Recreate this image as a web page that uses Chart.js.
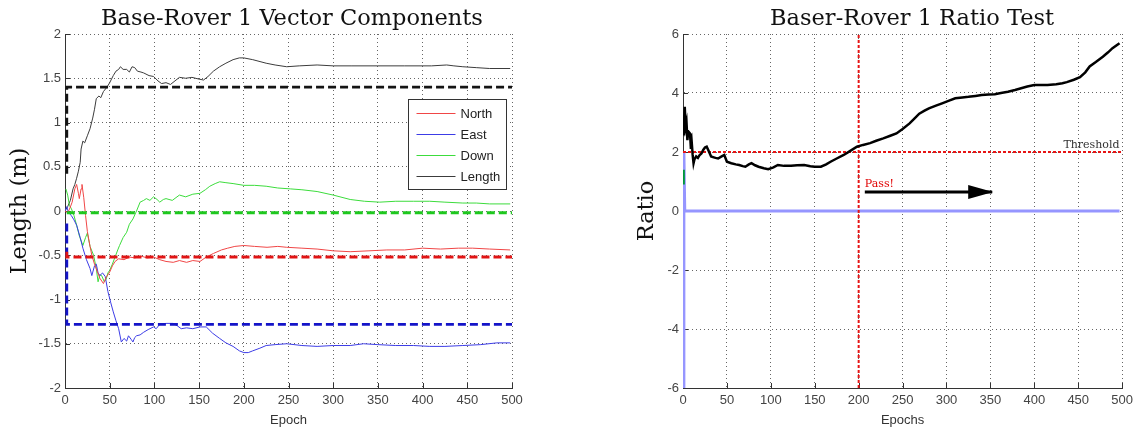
<!DOCTYPE html>
<html>
<head>
<meta charset="utf-8">
<script src="https://cdn.jsdelivr.net/npm/chart.js@4.4.1/dist/chart.umd.min.js"></script>
<style>
	html, body { margin: 0; padding: 0; background: #fff; }
	#wrap { display: flex; width: 1138px; height: 431px; }
	canvas { display: block; }
</style>
</head>
<body>
<div id="wrap">
	<canvas id="vectorChart" width="569" height="431"></canvas>
	<canvas id="ratioChart" width="569" height="431"></canvas>
</div>
<script>
// ---- Base-Rover 1 vector components: [epoch, metres] ----
const north = [[0,0.0],[3,-0.02],[5,0.02],[8,0.1],[11,0.25],[13,0.3],[15,0.2],[16,0.14],[18,0.25],[19,0.3],[21,0.15],[23,-0.05],[25,-0.23],[28,-0.4],[30,-0.5],[33,-0.6],[36,-0.68],[39,-0.76],[43,-0.82],[46,-0.75],[50,-0.69],[53,-0.62],[56,-0.57],[60,-0.54],[66,-0.55],[72,-0.52],[78,-0.53],[85,-0.51],[92,-0.53],[99,-0.52],[106,-0.55],[113,-0.57],[121,-0.58],[128,-0.56],[136,-0.58],[143,-0.56],[151,-0.57],[158,-0.52],[166,-0.48],[175,-0.44],[182,-0.42],[190,-0.4],[200,-0.39],[212,-0.4],[226,-0.41],[238,-0.4],[248,-0.41],[265,-0.42],[282,-0.43],[300,-0.45],[319,-0.46],[340,-0.45],[360,-0.44],[380,-0.44],[400,-0.42],[420,-0.43],[440,-0.42],[456,-0.42],[475,-0.43],[498,-0.44]];
const east = [[0,0.0],[2,0.05],[4,-0.02],[7,-0.05],[10,-0.1],[13,-0.16],[17,-0.3],[20,-0.42],[24,-0.55],[28,-0.65],[30,-0.73],[33,-0.62],[35,-0.6],[37,-0.7],[39,-0.73],[42,-0.7],[45,-0.74],[48,-0.91],[51,-1.03],[54,-1.14],[57,-1.24],[60,-1.33],[63,-1.48],[66,-1.44],[69,-1.47],[71,-1.41],[74,-1.45],[76,-1.48],[78,-1.43],[80,-1.41],[84,-1.4],[88,-1.37],[93,-1.34],[99,-1.31],[102,-1.33],[106,-1.28],[113,-1.27],[121,-1.27],[126,-1.3],[130,-1.33],[136,-1.32],[143,-1.33],[151,-1.31],[158,-1.31],[165,-1.38],[173,-1.44],[180,-1.49],[188,-1.53],[195,-1.58],[200,-1.6],[205,-1.6],[210,-1.58],[218,-1.55],[225,-1.52],[235,-1.51],[248,-1.5],[265,-1.52],[282,-1.53],[300,-1.52],[319,-1.52],[334,-1.5],[350,-1.51],[370,-1.52],[390,-1.52],[408,-1.53],[425,-1.53],[445,-1.52],[465,-1.51],[483,-1.49],[498,-1.49]];
const down = [[1,0.25],[3,0.18],[5,0.06],[7,0.03],[10,-0.05],[13,-0.16],[16,-0.28],[20,-0.39],[23,-0.3],[25,-0.25],[28,-0.4],[32,-0.5],[35,-0.65],[37,-0.8],[39,-0.72],[41,-0.73],[44,-0.8],[46,-0.77],[48,-0.7],[50,-0.67],[53,-0.6],[56,-0.52],[59,-0.44],[61,-0.39],[65,-0.3],[69,-0.24],[72,-0.15],[76,-0.09],[80,0.0],[84,0.1],[88,0.12],[91,0.14],[95,0.12],[99,0.16],[103,0.13],[106,0.1],[110,0.13],[113,0.14],[120,0.12],[128,0.18],[135,0.16],[143,0.19],[151,0.2],[157,0.24],[162,0.28],[168,0.31],[173,0.33],[180,0.32],[188,0.31],[200,0.29],[212,0.29],[225,0.28],[238,0.26],[252,0.25],[265,0.24],[282,0.22],[300,0.18],[319,0.13],[335,0.11],[352,0.1],[370,0.11],[390,0.11],[408,0.11],[425,0.1],[445,0.09],[460,0.09],[475,0.08],[498,0.08]];
const length = [[0,0.0],[3,0.05],[6,0.12],[9,0.25],[11,0.3],[13,0.37],[15,0.45],[17,0.55],[18,0.7],[20,0.79],[22,0.77],[25,0.85],[28,0.93],[31,1.05],[33,1.15],[35,1.27],[38,1.3],[40,1.28],[43,1.35],[47,1.4],[50,1.45],[54,1.53],[57,1.58],[60,1.6],[62,1.63],[65,1.6],[69,1.6],[72,1.57],[75,1.63],[78,1.62],[81,1.58],[85,1.57],[88,1.56],[94,1.53],[99,1.52],[104,1.47],[108,1.44],[113,1.45],[118,1.43],[123,1.47],[128,1.51],[135,1.5],[142,1.51],[150,1.49],[155,1.48],[160,1.52],[166,1.58],[173,1.63],[180,1.67],[188,1.71],[195,1.73],[200,1.73],[210,1.71],[225,1.67],[235,1.65],[248,1.63],[262,1.64],[282,1.65],[300,1.64],[320,1.64],[350,1.64],[380,1.64],[410,1.64],[427,1.65],[435,1.64],[445,1.63],[460,1.62],[475,1.61],[498,1.61]];

// reference (true) baseline components, dashed
const northRef = [[2,-0.46],[2,-0.52],[500,-0.52]];
const eastRef = [[2,-0.14],[2,-1.28],[500,-1.28]];
const downRef = [[2,-0.02],[500,-0.02]];
const lengthRef = [[2,0.42],[2,1.4],[500,1.4]];

// ---- Ratio test: [epoch, ratio] ----
const ratio = [[0,2.6],[1,2.9],[2,3.53],[3,2.85],[4,3.0],[5,2.4],[6,2.7],[8,2.63],[9,2.1],[10,2.3],[11,1.9],[12,1.62],[13,1.75],[15,1.85],[17,1.8],[19,1.9],[21,1.95],[23,2.07],[25,2.15],[27,2.18],[29,2.05],[32,1.85],[35,1.82],[37,1.8],[40,1.78],[44,1.85],[47,1.9],[50,1.67],[55,1.62],[60,1.58],[64,1.56],[68,1.52],[71,1.5],[75,1.58],[78,1.62],[82,1.55],[86,1.5],[92,1.45],[97,1.42],[103,1.48],[108,1.56],[115,1.53],[123,1.53],[130,1.55],[138,1.56],[145,1.52],[150,1.5],[157,1.5],[163,1.58],[168,1.67],[175,1.78],[183,1.9],[190,2.03],[198,2.18],[205,2.24],[213,2.3],[220,2.38],[228,2.46],[236,2.55],[243,2.63],[250,2.78],[258,2.97],[264,3.15],[269,3.3],[275,3.4],[280,3.48],[288,3.57],[295,3.65],[303,3.74],[310,3.82],[318,3.85],[325,3.87],[333,3.9],[340,3.93],[348,3.95],[355,3.96],[362,4.0],[370,4.04],[378,4.1],[385,4.16],[392,4.22],[400,4.27],[408,4.27],[415,4.27],[425,4.3],[432,4.33],[437,4.37],[445,4.45],[452,4.54],[458,4.7],[463,4.9],[470,5.05],[478,5.23],[484,5.38],[489,5.52],[497,5.69]];
const ratioBase = [[1,-6],[1,2],[2,0],[497,0]];
const ratioStart = [[1,1.4],[1,0.9]];
const threshold = [[0,2],[500,2]];
const passEpoch = [[200,-6],[200,6]];
const arrowShaft = [[207,0.64],[352,0.64]];
const passNote = [207, 0.8];
const thresholdNote = [497, 2.15];

const epochTicks = { min: 0, max: 500, step: 50 };
const lengthTicks = { min: -2, max: 2, step: 0.5 };
const ratioTicks = { min: -6, max: 6, step: 2 };

Chart.defaults.font.family = "'Liberation Sans', Arial, sans-serif";
Chart.defaults.animation = false;

const SERIF = "'DejaVu Serif', serif";
const toXY = (pts) => pts.map(([x, y]) => ({ x, y }));

function line(label, pts, color, width, dash, extra = {}) {
	return {
		label,
		data: toXY(pts),
		borderColor: color,
		backgroundColor: color,
		borderWidth: width,
		borderDash: dash || [],
		pointRadius: 0,
		tension: 0,
		fill: false,
		...extra,
	};
}

// title drawn above the axes (matlab centres it a little right of the plot)
const plotTitle = {
	id: "plotTitle",
	afterDraw(chart, args, opts) {
		const { ctx, chartArea } = chart;
		ctx.save();
		ctx.font = "22.5px " + SERIF;
		ctx.fillStyle = "#111";
		ctx.textAlign = "center";
		ctx.textBaseline = "alphabetic";
		ctx.fillText(opts.text, (chartArea.left + chartArea.right) / 2 + opts.dx, 25);
		ctx.restore();
	},
};

// matlab style inward tick marks
const innerTicks = {
	id: "innerTicks",
	beforeDatasetsDraw(chart) {
		const { ctx, chartArea, scales } = chart;
		ctx.save();
		ctx.strokeStyle = "#333";
		ctx.lineWidth = 1;
		ctx.beginPath();
		scales.x.ticks.forEach((t) => {
			const px = Math.round(scales.x.getPixelForValue(t.value)) + 0.5;
			ctx.moveTo(px, chartArea.bottom);
			ctx.lineTo(px, chartArea.bottom - 5);
		});
		scales.y.ticks.forEach((t) => {
			const py = Math.round(scales.y.getPixelForValue(t.value)) + 0.5;
			ctx.moveTo(chartArea.left, py);
			ctx.lineTo(chartArea.left + 5, py);
		});
		ctx.stroke();
		ctx.restore();
	},
};

// boxed legend inside the axes
const boxLegend = {
	id: "boxLegend",
	afterDatasetsDraw(chart) {
		const { ctx, chartArea } = chart;
		const items = chart.data.datasets.filter((d) => d.inLegend);
		const w = 98;
		const h = 90;
		const left = Math.round(chartArea.right - 6 - w) + 0.5;
		const top = Math.round(chartArea.top + 65) + 0.5;
		ctx.save();
		ctx.fillStyle = "#fff";
		ctx.fillRect(left, top, w, h);
		ctx.strokeStyle = "#333";
		ctx.lineWidth = 1;
		ctx.strokeRect(left, top, w, h);
		ctx.font = "13px 'Liberation Sans', Arial, sans-serif";
		ctx.textBaseline = "middle";
		ctx.textAlign = "left";
		items.forEach((d, i) => {
			const y = top + 14 + i * 21;
			ctx.strokeStyle = d.borderColor;
			ctx.lineWidth = 1;
			ctx.beginPath();
			ctx.moveTo(left + 8, y);
			ctx.lineTo(left + 47, y);
			ctx.stroke();
			ctx.fillStyle = "#222";
			ctx.fillText(d.label, left + 52, y + 1);
		});
		ctx.restore();
	},
};

// arrow head + text notes on the ratio plot
const ratioNotes = {
	id: "ratioNotes",
	afterDatasetsDraw(chart) {
		const { ctx, scales: { x, y } } = chart;
		const end = arrowShaft[arrowShaft.length - 1];
		const tipX = x.getPixelForValue(end[0]);
		const tipY = y.getPixelForValue(end[1]);
		ctx.save();
		ctx.fillStyle = "#000";
		ctx.beginPath();
		ctx.moveTo(tipX + 1, tipY);
		ctx.lineTo(tipX - 24, tipY - 7);
		ctx.lineTo(tipX - 24, tipY + 7);
		ctx.closePath();
		ctx.fill();

		ctx.font = "11px " + SERIF;
		ctx.textBaseline = "alphabetic";
		ctx.fillStyle = "#e00000";
		ctx.textAlign = "left";
		ctx.fillText("Pass!", x.getPixelForValue(passNote[0]), y.getPixelForValue(passNote[1]));
		ctx.fillStyle = "#333";
		ctx.textAlign = "right";
		ctx.fillText("Threshold", x.getPixelForValue(thresholdNote[0]), y.getPixelForValue(thresholdNote[1]));
		ctx.restore();
	},
};

function axes(yRange, yTitle, yWidth, yTitlePad, xTitle) {
	return {
		x: {
			type: "linear",
			min: epochTicks.min,
			max: epochTicks.max,
			ticks: { stepSize: epochTicks.step, color: "#444", font: { size: 13 }, padding: 5, maxRotation: 0 },
			grid: { color: "#666", drawTicks: false },
			border: { color: "#333", width: 1, dash: [1, 3] },
			title: { display: true, text: xTitle, color: "#333", font: { size: 13 }, padding: { top: 0, bottom: 3 } },
			afterFit: (s) => { s.height = 43; },
		},
		y: {
			type: "linear",
			min: yRange.min,
			max: yRange.max,
			ticks: { stepSize: yRange.step, color: "#444", font: { size: 13 }, padding: 4, callback: (v) => `${v}` },
			grid: { color: "#666", drawTicks: false },
			border: { color: "#333", width: 1, dash: [1, 3] },
			title: { display: true, text: yTitle, color: "#111", font: { family: SERIF, size: 22.5 }, padding: { top: yTitlePad, bottom: 0 } },
			afterFit: (s) => { s.width = yWidth; },
		},
	};
}

new Chart(document.getElementById("vectorChart"), {
	type: "line",
	data: {
		datasets: [
			line("NorthRef", northRef, "rgb(225,20,20)", 2.8, [8, 4]),
			line("EastRef", eastRef, "rgb(20,20,200)", 2.8, [8, 4]),
			line("DownRef", downRef, "rgb(30,200,30)", 2.8, [8, 4]),
			line("LengthRef", lengthRef, "rgb(20,20,20)", 2.8, [8, 4]),
			line("North", north, "rgb(240,70,70)", 1, null, { inLegend: true }),
			line("East", east, "rgb(60,60,230)", 1, null, { inLegend: true }),
			line("Down", down, "rgb(60,220,60)", 1, null, { inLegend: true }),
			line("Length", length, "rgb(60,60,60)", 1, null, { inLegend: true }),
		],
	},
	options: {
		responsive: false,
		layout: { padding: { left: 0, right: 57, top: 34, bottom: 0 } },
		scales: axes(lengthTicks, "Length (m)", 65, 6.5, "Epoch"),
		plugins: {
			legend: { display: false },
			tooltip: { enabled: false },
			title: { display: false },
			plotTitle: { text: "Base-Rover 1 Vector Components", dx: 3.5 },
		},
	},
	plugins: [innerTicks, boxLegend, plotTitle],
});

new Chart(document.getElementById("ratioChart"), {
	type: "line",
	data: {
		datasets: [
			line("Ratio", ratio, "#000", 2.5),
			line("Arrow", arrowShaft, "#000", 3),
			line("Start", ratioStart, "rgb(0,150,60)", 2),
			line("Threshold", threshold, "rgb(230,20,20)", 2, [3, 2]),
			line("Pass", passEpoch, "rgb(230,20,20)", 2, [3, 2]),
			line("Base", ratioBase, "rgb(150,150,255)", 3),
		],
	},
	options: {
		responsive: false,
		layout: { padding: { left: 60, right: 8, top: 34, bottom: 0 } },
		scales: axes(ratioTicks, "Ratio", 54, 4.5, "Epochs"),
		plugins: {
			legend: { display: false },
			tooltip: { enabled: false },
			title: { display: false },
			plotTitle: { text: "Baser-Rover 1 Ratio Test", dx: 9.5 },
		},
	},
	plugins: [innerTicks, ratioNotes, plotTitle],
});
</script>
</body>
</html>
